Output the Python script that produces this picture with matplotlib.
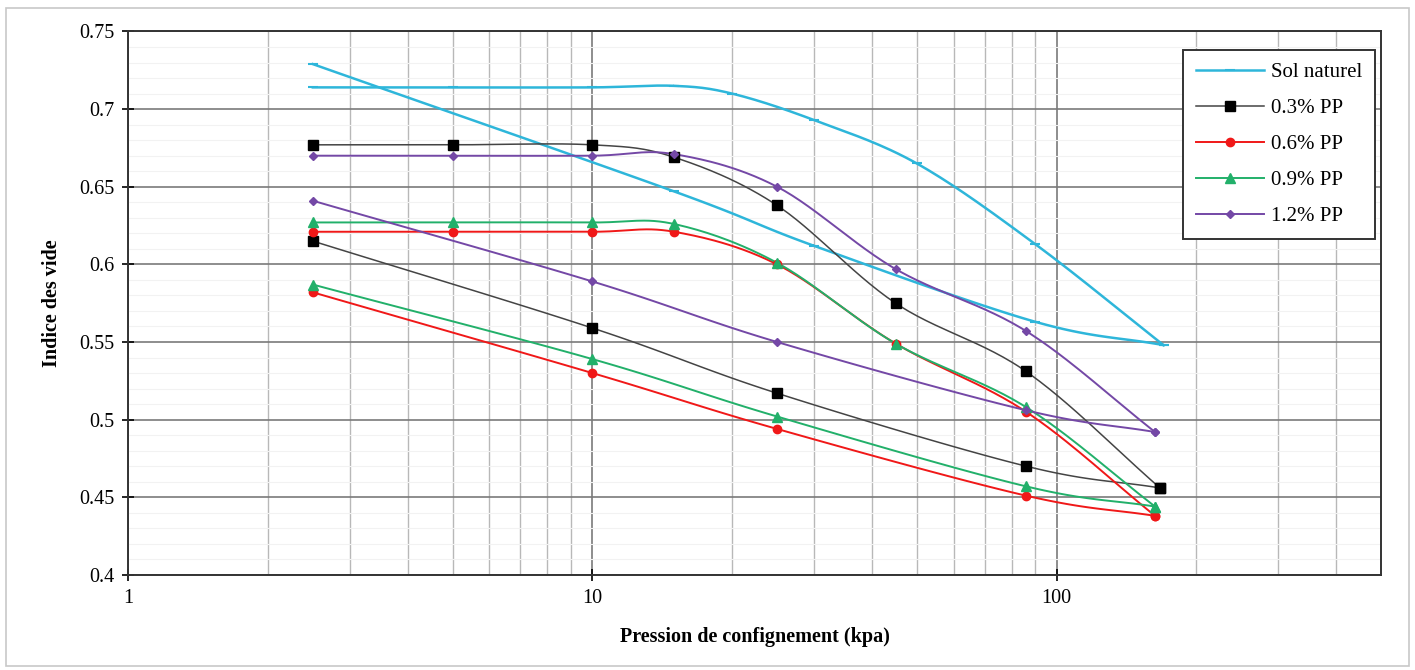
import numpy as np
import matplotlib.pyplot as plt
from matplotlib.ticker import MultipleLocator, LogLocator, FixedFormatter, FixedLocator

plt.rcParams['font.family'] = ['Liberation Serif', 'DejaVu Serif']

# --- data ---
# each series: loading branch then unloading branch
sol_load_x = [2.5, 5, 10, 15, 20, 30, 50, 90, 170]
sol_load_y = [0.714, 0.714, 0.714, 0.715, 0.710, 0.693, 0.665, 0.613, 0.548]
sol_unload_x = [170, 90, 30, 15, 2.5]
sol_unload_y = [0.548, 0.563, 0.612, 0.647, 0.729]

pp03_load_x = [2.5, 5, 10, 15, 25, 45, 86, 167]
pp03_load_y = [0.677, 0.677, 0.677, 0.669, 0.638, 0.575, 0.531, 0.456]
pp03_unload_x = [167, 86, 25, 10, 2.5]
pp03_unload_y = [0.456, 0.470, 0.517, 0.559, 0.615]

pp06_load_x = [2.5, 5, 10, 15, 25, 45, 86, 163]
pp06_load_y = [0.621, 0.621, 0.621, 0.621, 0.600, 0.549, 0.505, 0.438]
pp06_unload_x = [163, 86, 25, 10, 2.5]
pp06_unload_y = [0.438, 0.451, 0.494, 0.530, 0.582]

pp09_load_x = [2.5, 5, 10, 15, 25, 45, 86, 163]
pp09_load_y = [0.627, 0.627, 0.627, 0.626, 0.601, 0.549, 0.508, 0.444]
pp09_unload_x = [163, 86, 25, 10, 2.5]
pp09_unload_y = [0.444, 0.457, 0.502, 0.539, 0.587]

pp12_load_x = [2.5, 5, 10, 15, 25, 45, 86, 163]
pp12_load_y = [0.670, 0.670, 0.670, 0.671, 0.650, 0.597, 0.557, 0.492]
pp12_unload_x = [163, 86, 25, 10, 2.5]
pp12_unload_y = [0.492, 0.506, 0.550, 0.589, 0.641]

labels = ["Sol naturel", "0.3% PP", "0.6% PP", "0.9% PP", "1.2% PP"]


def smooth(xs, ys, n=30):
    # Catmull-Rom through the points, in log-x space (like Excel smoothed lines)
    lx = np.log10(xs)
    y = np.array(ys, dtype=float)
    px = np.concatenate([[2 * lx[0] - lx[1]], lx, [2 * lx[-1] - lx[-2]]])
    py = np.concatenate([[2 * y[0] - y[1]], y, [2 * y[-1] - y[-2]]])
    out_x, out_y = [], []
    t = np.linspace(0, 1, n)
    for i in range(1, len(px) - 2):
        for p, out in ((px, out_x), (py, out_y)):
            p0, p1, p2, p3 = p[i - 1], p[i], p[i + 1], p[i + 2]
            seg = 0.5 * ((2 * p1) + (-p0 + p2) * t + (2 * p0 - 5 * p1 + 4 * p2 - p3) * t ** 2
                         + (-p0 + 3 * p1 - 3 * p2 + p3) * t ** 3)
            out.extend(seg)
    return 10 ** np.array(out_x), np.array(out_y)


fig = plt.figure(figsize=(14.15, 6.7), dpi=100)
fig.patches.append(plt.Rectangle((0.004, 0.006), 0.992, 0.982, transform=fig.transFigure,
                                 fill=False, edgecolor='#c8c8c8', lw=1.2))
ax = fig.add_axes([0.0905, 0.142, 0.8855, 0.811])

styles = [
    dict(color='#2EB6DA', marker='_', ms=7, mew=1.5, lw=1.8, mec='#2EB6DA'),
    dict(color='#444444', marker='s', ms=7, lw=1.1, mfc='black', mec='black'),
    dict(color='#F01818', marker='o', ms=6, lw=1.4, mfc='#F01818', mec='#F01818'),
    dict(color='#22B06A', marker='^', ms=7, lw=1.4, mfc='#22B06A', mec='#22B06A'),
    dict(color='#7448A6', marker='D', ms=4.5, lw=1.4, mfc='#7448A6', mec='#7448A6'),
]

series = [
    (sol_load_x, sol_load_y, sol_unload_x, sol_unload_y),
    (pp03_load_x, pp03_load_y, pp03_unload_x, pp03_unload_y),
    (pp06_load_x, pp06_load_y, pp06_unload_x, pp06_unload_y),
    (pp09_load_x, pp09_load_y, pp09_unload_x, pp09_unload_y),
    (pp12_load_x, pp12_load_y, pp12_unload_x, pp12_unload_y),
]

for (lx, ly, ux, uy), st, lab in zip(series, styles, labels):
    ls = dict(st)
    for k in ('marker', 'ms', 'mew', 'mfc', 'mec'):
        ls.pop(k, None)
    for xs, ys in ((lx, ly), (ux, uy)):
        sx, sy = smooth(xs, ys)
        ax.plot(sx, sy, zorder=3, **ls)
        ax.plot(xs, ys, linestyle='none', zorder=4,
                **{k: v for k, v in st.items() if k not in ('lw',)})
    ax.plot([], [], label=lab, **st)

ax.set_xscale('log')
ax.set_xlim(1, 500)
ax.set_ylim(0.4, 0.75)

ax.xaxis.set_major_locator(FixedLocator([1, 10, 100]))
ax.xaxis.set_major_formatter(FixedFormatter(['1', '10', '100']))
ax.xaxis.set_minor_locator(LogLocator(base=10, subs=np.arange(2, 10), numticks=20))
ax.xaxis.set_minor_formatter(FixedFormatter([]))
ax.yaxis.set_minor_locator(MultipleLocator(0.01))
ax.set_yticks(np.arange(0.4, 0.751, 0.05))
ax.set_yticklabels(['0.4', '0.45', '0.5', '0.55', '0.6', '0.65', '0.7', '0.75'])

ax.grid(which='major', axis='both', color='#7a7a7a', lw=1.2, zorder=1)
ax.grid(which='minor', axis='x', color='#b8b8b8', lw=1.0, zorder=1)
ax.grid(which='minor', axis='y', color='#f2f2f2', lw=0.8, zorder=0)

ax.tick_params(which='major', direction='inout', length=8, width=1.2, labelsize=14.5, pad=6)
ax.tick_params(which='minor', length=0)
for s in ax.spines.values():
    s.set_color('#333333')
    s.set_linewidth(1.4)

ax.set_xlabel('Pression de confignement (kpa)', fontsize=14.5, fontweight='bold', labelpad=14)
ax.set_ylabel('Indice des vide', fontsize=14.5, fontweight='bold', labelpad=12)

leg = ax.legend(loc='upper right', bbox_to_anchor=(0.995, 0.966), borderaxespad=0,
                fontsize=15, frameon=True, fancybox=False, edgecolor='#333333',
                framealpha=1, handlelength=3.3, handletextpad=0.3, labelspacing=0.78,
                borderpad=0.62)
leg.get_frame().set_linewidth(1.4)

fig.savefig('out.png', dpi=100)
